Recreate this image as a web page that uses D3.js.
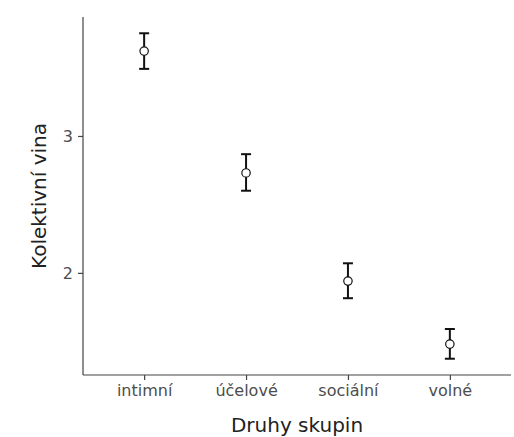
<!DOCTYPE html>
<html><head><meta charset="utf-8">
<script src="https://cdn.jsdelivr.net/npm/d3@7"></script>
<style>body{margin:0;background:#fff}svg{display:block}text{font-family:"DejaVu Sans",sans-serif}</style>
</head><body>
<script>
const categories = ["intimní", "účelové", "sociální", "volné"];
const means = [3.62, 2.73, 1.94, 1.48];
const lower = [3.49, 2.60, 1.815, 1.373];
const upper = [3.75, 2.867, 2.07, 1.59];
const yTicks = [2, 3];

const W = 514, H = 437;
const m = {left: 83, right: 3, top: 17, bottom: 62};
const svg = d3.select("body").append("svg").attr("width", W).attr("height", H);

const x = d3.scalePoint().domain(categories).range([m.left, W - m.right]).padding(0.6);
const lo = d3.min(lower), hi = d3.max(upper), pad = (hi - lo) * 0.05;
const y = d3.scaleLinear().domain([lo - pad, hi + pad]).range([H - m.bottom, m.top]);

const xAxis = svg.append("g").attr("transform", `translate(0,${H - m.bottom})`)
  .call(d3.axisBottom(x).tickSize(5).tickPadding(5));
const yAxis = svg.append("g").attr("transform", `translate(${m.left},0)`)
  .call(d3.axisLeft(y).tickValues(yTicks).tickFormat(d3.format("d")).tickSize(5).tickPadding(5));
[xAxis, yAxis].forEach(g => {
  g.select(".domain").attr("stroke", "#444").attr("stroke-width", 1.2);
  g.selectAll(".tick line").attr("stroke", "#444").attr("stroke-width", 1.2);
  g.selectAll(".tick text").attr("fill", "#4d4d4d").style("font-size", "16px").style("font-family", "DejaVu Sans");
});
// extend domain to full length without outer ticks
xAxis.select(".domain").attr("d", `M${m.left},0H${W - m.right}`);
yAxis.select(".domain").attr("d", `M0,${m.top}V${H - m.bottom}`);

const data = categories.map((c, i) => ({c, m: means[i], l: lower[i], u: upper[i]}));
const g = svg.append("g");
const cap = 5;
data.forEach(d => {
  const cx = x(d.c);
  g.append("line").attr("x1", cx).attr("x2", cx).attr("y1", y(d.u)).attr("y2", y(d.l))
    .attr("stroke", "#111").attr("stroke-width", 2);
  [d.u, d.l].forEach(v => g.append("line").attr("x1", cx - cap).attr("x2", cx + cap)
    .attr("y1", y(v)).attr("y2", y(v)).attr("stroke", "#111").attr("stroke-width", 2));
  g.append("circle").attr("cx", cx).attr("cy", y(d.m)).attr("r", 4.2)
    .attr("fill", "#fff").attr("stroke", "#111").attr("stroke-width", 1.2);
});

svg.append("text").attr("x", (m.left + W - m.right) / 2).attr("y", 432)
  .attr("text-anchor", "middle").attr("fill", "#222").style("font-size", "20px").text("Druhy skupin");
svg.append("text").attr("transform", `translate(46,${(m.top + H - m.bottom) / 2}) rotate(-90)`)
  .attr("text-anchor", "middle").attr("fill", "#222").style("font-size", "20px").text("Kolektivní vina");
</script>
</body></html>
